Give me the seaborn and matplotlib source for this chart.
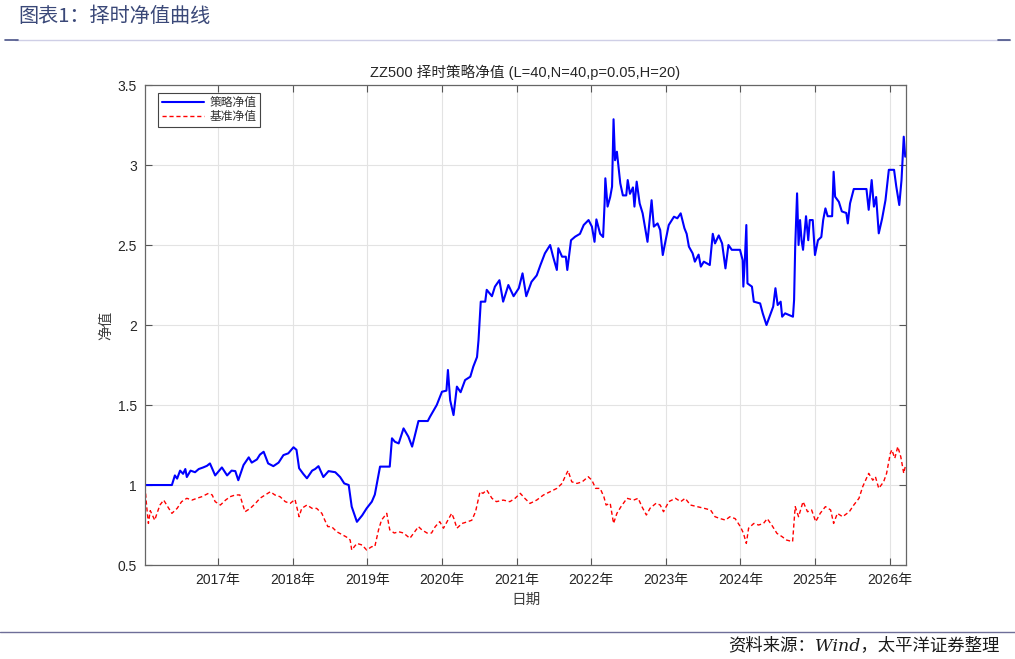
import numpy as np
import pandas as pd
import matplotlib
matplotlib.use("Agg")
import matplotlib.pyplot as plt
import seaborn as sns
from matplotlib.lines import Line2D

# data (decimal year, net value)
strat_t = [2016.02, 2016.38, 2016.42, 2016.45, 2016.49, 2016.53, 2016.56, 2016.58, 2016.63, 2016.69,
           2016.74, 2016.80, 2016.85, 2016.89, 2016.96, 2017.05, 2017.12, 2017.18, 2017.23, 2017.27,
           2017.34, 2017.41, 2017.45, 2017.52, 2017.56, 2017.61, 2017.67, 2017.74, 2017.81, 2017.875,
           2017.94, 2018.01, 2018.05, 2018.085, 2018.14, 2018.19, 2018.26, 2018.30, 2018.345, 2018.41,
           2018.48, 2018.57, 2018.635, 2018.69, 2018.75, 2018.79, 2018.86, 2018.93, 2018.99, 2019.06,
           2019.10, 2019.17, 2019.30, 2019.33, 2019.37, 2019.42, 2019.485, 2019.55, 2019.60, 2019.685,
           2019.81, 2019.84, 2019.93, 2020.00, 2020.06, 2020.08, 2020.11, 2020.155, 2020.20, 2020.25,
           2020.31, 2020.38, 2020.42, 2020.47, 2020.49, 2020.52, 2020.58, 2020.60, 2020.67, 2020.71,
           2020.77, 2020.82, 2020.89, 2020.96, 2021.03, 2021.08, 2021.13, 2021.20, 2021.27, 2021.32,
           2021.38, 2021.45, 2021.49, 2021.54, 2021.56, 2021.61, 2021.66, 2021.68, 2021.73, 2021.785,
           2021.85, 2021.90, 2021.965, 2022.01, 2022.045, 2022.07, 2022.12, 2022.16, 2022.18, 2022.19,
           2022.22, 2022.255, 2022.28, 2022.30, 2022.32, 2022.345, 2022.37, 2022.39, 2022.425, 2022.47,
           2022.49, 2022.52, 2022.56, 2022.58, 2022.61, 2022.65, 2022.69, 2022.72, 2022.755, 2022.79,
           2022.81, 2022.84, 2022.89, 2022.925, 2022.96, 2022.99, 2023.04, 2023.11, 2023.155, 2023.20,
           2023.25, 2023.28, 2023.31, 2023.36, 2023.39, 2023.44, 2023.47, 2023.51, 2023.59, 2023.63,
           2023.66, 2023.71, 2023.755, 2023.80, 2023.84, 2023.885, 2023.995, 2024.03, 2024.04, 2024.06,
           2024.08, 2024.095, 2024.155, 2024.18, 2024.265, 2024.30, 2024.35, 2024.39, 2024.44, 2024.47,
           2024.50, 2024.54, 2024.56, 2024.60, 2024.705, 2024.72, 2024.735, 2024.76, 2024.78, 2024.80,
           2024.82, 2024.84, 2024.88, 2024.91, 2024.93, 2024.97, 2025.00, 2025.04, 2025.085, 2025.11,
           2025.14, 2025.17, 2025.23, 2025.25, 2025.27, 2025.32, 2025.36, 2025.42, 2025.44, 2025.47,
           2025.52, 2025.69, 2025.72, 2025.76, 2025.79, 2025.82, 2025.855, 2025.90, 2025.945, 2025.99,
           2026.06, 2026.09, 2026.13, 2026.16, 2026.19, 2026.21]
strat_v = [1.00, 1.00, 1.06, 1.04, 1.09, 1.07, 1.10, 1.05, 1.09, 1.08,
           1.10, 1.11, 1.12, 1.135, 1.06, 1.11, 1.06, 1.09, 1.087, 1.03,
           1.125, 1.173, 1.14, 1.16, 1.19, 1.208, 1.135, 1.118, 1.14, 1.187,
           1.198, 1.236, 1.22, 1.105, 1.07, 1.042, 1.09, 1.10, 1.118, 1.05,
           1.087, 1.08, 1.05, 1.01, 1.00, 0.865, 0.77, 0.81, 0.854, 0.896,
           0.94, 1.115, 1.115, 1.292, 1.27, 1.26, 1.354, 1.302, 1.24, 1.40,
           1.40, 1.427, 1.50, 1.583, 1.59, 1.719, 1.53, 1.437, 1.615, 1.58,
           1.656, 1.677, 1.74, 1.80, 1.906, 2.146, 2.146, 2.22, 2.18, 2.24,
           2.28, 2.146, 2.25, 2.18, 2.23, 2.323, 2.18, 2.27, 2.31, 2.375,
           2.448, 2.50, 2.427, 2.344, 2.48, 2.427, 2.427, 2.344, 2.53, 2.552,
           2.57, 2.625, 2.656, 2.615, 2.52, 2.66, 2.57, 2.55, 2.76, 2.917,
           2.74, 2.80, 2.865, 3.286, 3.03, 3.083, 2.97, 2.886, 2.81, 2.81,
           2.906, 2.82, 2.86, 2.74, 2.896, 2.76, 2.698, 2.615, 2.52, 2.69,
           2.78, 2.615, 2.635, 2.594, 2.4375, 2.51, 2.625, 2.677, 2.667, 2.698,
           2.605, 2.57, 2.49, 2.448, 2.396, 2.44, 2.365, 2.396, 2.375, 2.57,
           2.51, 2.56, 2.51, 2.354, 2.50, 2.47, 2.47, 2.406, 2.24, 2.406,
           2.625, 2.26, 2.24, 2.146, 2.135, 2.073, 2.00, 2.052, 2.115, 2.23,
           2.125, 2.146, 2.052, 2.073, 2.052, 2.156, 2.49, 2.823, 2.50, 2.656,
           2.53, 2.47, 2.68, 2.53, 2.656, 2.656, 2.4375, 2.53, 2.55, 2.656,
           2.729, 2.68, 2.68, 2.958, 2.802, 2.77, 2.71, 2.70, 2.635, 2.76,
           2.85, 2.85, 2.72, 2.906, 2.74, 2.80, 2.573, 2.665, 2.78, 2.97,
           2.97, 2.865, 2.75, 2.906, 3.177, 3.052]

bench_t = [2016.02, 2016.04, 2016.065, 2016.09, 2016.12, 2016.15, 2016.18, 2016.22, 2016.27, 2016.31,
           2016.38, 2016.45, 2016.51, 2016.58, 2016.65, 2016.715, 2016.78, 2016.87, 2016.92, 2016.96,
           2017.03, 2017.10, 2017.16, 2017.23, 2017.29, 2017.36, 2017.43, 2017.50, 2017.56, 2017.63,
           2017.70, 2017.76, 2017.83, 2017.90, 2017.965, 2018.03, 2018.085, 2018.12, 2018.19, 2018.26,
           2018.32, 2018.39, 2018.43, 2018.47, 2018.52, 2018.59, 2018.66, 2018.72, 2018.77, 2018.79,
           2018.86, 2018.93, 2018.99, 2019.06, 2019.10, 2019.15, 2019.19, 2019.26, 2019.30, 2019.36,
           2019.42, 2019.485, 2019.57, 2019.685, 2019.73, 2019.80, 2019.86, 2019.91, 2019.97, 2020.02,
           2020.13, 2020.16, 2020.20, 2020.27, 2020.34, 2020.40, 2020.45, 2020.51, 2020.55, 2020.60,
           2020.67, 2020.73, 2020.82, 2020.91, 2020.98, 2021.05, 2021.11, 2021.18, 2021.27, 2021.36,
           2021.45, 2021.54, 2021.61, 2021.65, 2021.69, 2021.74, 2021.81, 2021.88, 2021.96, 2022.01,
           2022.06, 2022.12, 2022.17, 2022.20, 2022.255, 2022.30, 2022.345, 2022.40, 2022.48, 2022.57,
           2022.63, 2022.68, 2022.74, 2022.79, 2022.87, 2022.925, 2022.97, 2023.04, 2023.13, 2023.20,
           2023.26, 2023.33, 2023.42, 2023.51, 2023.60, 2023.66, 2023.73, 2023.80, 2023.86, 2023.93,
           2024.00, 2024.04, 2024.08, 2024.11, 2024.18, 2024.245, 2024.31, 2024.36, 2024.42, 2024.49,
           2024.56, 2024.62, 2024.70, 2024.735, 2024.78, 2024.84, 2024.90, 2024.955, 2025.01, 2025.07,
           2025.14, 2025.21, 2025.25, 2025.30, 2025.37, 2025.46, 2025.52, 2025.59, 2025.64, 2025.72,
           2025.775, 2025.81, 2025.855, 2025.92, 2025.96, 2026.01, 2026.03, 2026.07, 2026.11, 2026.15,
           2026.19, 2026.21]
bench_v = [0.99, 0.875, 0.76, 0.84, 0.81, 0.78, 0.823, 0.875, 0.906, 0.875,
           0.823, 0.854, 0.896, 0.917, 0.906, 0.917, 0.927, 0.948, 0.938, 0.896,
           0.875, 0.906, 0.927, 0.938, 0.938, 0.833, 0.854, 0.885, 0.917, 0.938,
           0.958, 0.938, 0.927, 0.896, 0.885, 0.91, 0.802, 0.854, 0.875, 0.854,
           0.854, 0.823, 0.78, 0.74, 0.74, 0.708, 0.69, 0.675, 0.656, 0.594,
           0.635, 0.625, 0.594, 0.615, 0.615, 0.72, 0.781, 0.823, 0.72, 0.70,
           0.708, 0.70, 0.667, 0.74, 0.72, 0.70, 0.70, 0.74, 0.771, 0.73,
           0.823, 0.79, 0.73, 0.76, 0.77, 0.78, 0.833, 0.958, 0.948, 0.969,
           0.917, 0.896, 0.906, 0.896, 0.917, 0.948, 0.917, 0.885, 0.906, 0.9375,
           0.958, 0.979, 1.01, 1.052, 1.09, 1.02, 1.01, 1.02, 1.052, 1.03,
           0.979, 0.979, 0.927, 0.875, 0.886, 0.76, 0.823, 0.865, 0.917, 0.906,
           0.917, 0.865, 0.8125, 0.855, 0.886, 0.875, 0.833, 0.896, 0.917, 0.896,
           0.917, 0.875, 0.865, 0.855, 0.844, 0.802, 0.79, 0.781, 0.802, 0.79,
           0.74, 0.70, 0.635, 0.73, 0.76, 0.75, 0.76, 0.79, 0.75, 0.698,
           0.677, 0.656, 0.646, 0.865, 0.802, 0.896, 0.833, 0.844, 0.771, 0.823,
           0.865, 0.844, 0.76, 0.823, 0.802, 0.833, 0.875, 0.917, 0.99, 1.073,
           1.03, 1.052, 0.979, 1.02, 1.073, 1.198, 1.22, 1.167, 1.24, 1.177,
           1.073, 1.115]

years = list(range(2017, 2027))
year_labels = [f"{y}年" for y in years]
y_ticks = [0.5, 1, 1.5, 2, 2.5, 3, 3.5]
y_labels = ['0.5', '1', '1.5', '2', '2.5', '3', '3.5']

sns.set_style("white")
plt.rcParams['font.family'] = ['Liberation Sans', 'Noto Sans CJK SC', 'DejaVu Sans']
plt.rcParams['axes.unicode_minus'] = False

fig = plt.figure(figsize=(10.15, 6.59), dpi=100)
ax = fig.add_axes([0.1429, 0.1426, 0.7497, 0.7284])

sns.lineplot(x=strat_t, y=strat_v, ax=ax, color='#0000ff', lw=1.5,
             sort=False, estimator=None, label='策略净值')
sns.lineplot(x=bench_t, y=bench_v, ax=ax, color='#ff0000', lw=1.0,
             linestyle=(0, (3, 2)), sort=False, estimator=None, label='基准净值')

ax.set_xlim(2016.02, 2026.22)
ax.set_ylim(0.5, 3.5)
ax.set_xticks(years)
ax.set_xticklabels(year_labels)
ax.set_yticks(y_ticks)
ax.set_yticklabels(y_labels)
ax.grid(True, color='#e3e3e3', lw=0.8)
ax.set_axisbelow(True)
for s in ax.spines.values():
    s.set_color('#666666')
    s.set_linewidth(0.9)
    s.set_visible(True)
ax.tick_params(direction='in', length=5, width=0.8, color='#555555',
               labelsize=10, labelcolor='#262626', top=True, right=True,
               bottom=True, left=True, pad=6)

ax.set_title('ZZ500 择时策略净值 (L=40,N=40,p=0.05,H=20)', fontsize=10.5,
             color='#262626', pad=6)
ax.set_xlabel('日期', fontsize=10.5, color='#404040', labelpad=4)
ax.set_ylabel('净值', fontsize=10.5, color='#404040', labelpad=3)

leg = ax.legend(loc='upper left', bbox_to_anchor=(0.017, 0.983), borderaxespad=0,
                fancybox=False, edgecolor='#444444', framealpha=1, fontsize=8.5,
                handlelength=3.6, handletextpad=0.5, borderpad=0.3, labelspacing=0.2)
leg.get_frame().set_linewidth(0.8)
for t in leg.get_texts():
    t.set_color('#333333')

# report header and footer
fig.text(0.018, 0.975, '图表1：择时净值曲线', fontsize=14.5, color='#3a4878',
         ha='left', va='center', family=['Noto Sans CJK SC'])
fig.add_artist(Line2D([0.015, 0.995], [0.939, 0.939], color='#cfcfe6', lw=1.0))
fig.add_artist(Line2D([0.005, 0.018], [0.939, 0.939], color='#4a5388', lw=1.2))
fig.add_artist(Line2D([0.983, 0.995], [0.939, 0.939], color='#4a5388', lw=1.2))
fig.add_artist(Line2D([0.0, 1.0], [0.041, 0.041], color='#6e6e98', lw=1.0))
fig.text(0.985, 0.02, '资料来源：Wind，太平洋证券整理', fontsize=12.5, color='#1a1a1a',
         ha='right', va='center', style='italic',
         family=['DejaVu Serif', 'Noto Sans CJK SC'])

fig.savefig('out.png', dpi=100)
